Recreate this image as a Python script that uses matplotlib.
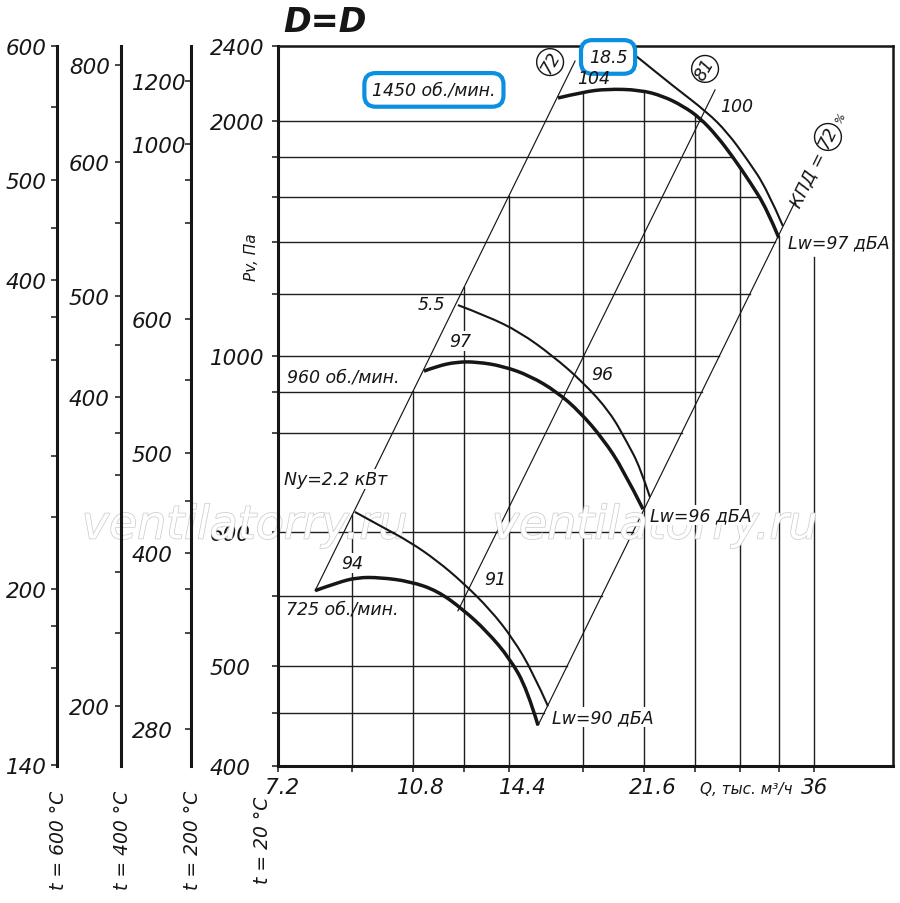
import numpy as np
import matplotlib
matplotlib.use("Agg")
import matplotlib.pyplot as plt
from matplotlib import patheffects as pe
from matplotlib.transforms import ScaledTranslation
from matplotlib.path import Path
from matplotlib.patches import PathPatch

plt.rcParams["font.family"] = ["DejaVu Sans"]
plt.rcParams["font.style"] = "italic"

# ---------------- data (Q: thousand m3/h, Pv: Pa at 20 C) ----------------
Q_1450 = [16.69, 17.99, 19.34, 21.35, 22.88, 24.30, 25.57, 26.91, 28.23, 29.71, 31.27, 32.41]
P_1450 = [2115, 2146, 2162, 2157, 2125, 2074, 2015, 1913, 1798, 1671, 1542, 1416]
Q_N185 = [20.17, 20.47, 21.35, 23.58, 26.11, 27.73, 29.44, 31.27, 32.80]
P_N185 = [2400, 2388, 2325, 2178, 2044, 1936, 1788, 1636, 1467]

Q_960 = [11.16, 11.61, 12.32, 13.09, 14.15, 15.35, 16.64, 17.83, 19.11, 20.29, 21.55]
P_960 = [957, 971, 983, 983, 971, 944, 901, 850, 786, 720, 641]
Q_N55 = [12.36, 13.49, 14.89, 16.44, 17.99, 19.51, 20.53, 21.35, 22.00]
P_N55 = [1162, 1125, 1073, 1000, 927, 850, 779, 725, 664]

Q_725 = [8.05, 8.60, 9.13, 9.78, 10.70, 11.61, 12.55, 13.49, 14.45, 15.21, 15.72]
P_725 = [554, 560, 564, 564, 561, 554, 540, 524, 505, 475, 438]
Q_N22 = [9.07, 9.78, 10.70, 11.61, 12.55, 13.61, 14.58, 15.48, 16.20]
P_N22 = [636, 611, 592, 577, 560, 540, 519, 493, 457]

# system / efficiency rays
EFF72_LEFT_Q = [8.05, 17.57]
EFF72_LEFT_P = [554, 2314]
EFF81_Q = [12.36, 26.75]
EFF81_P = [539, 2157]
EFF72_RIGHT_Q = [15.72, 34.01]
EFF72_RIGHT_P = [438, 1575]

# grid and ticks
X_MIN, X_MAX = 7.2, 45.65
Y_MIN, Y_MAX = 400, 2400
X_GRID = [9.0, 10.8, 12.6, 14.4, 18.0, 21.6, 25.2, 28.8, 32.4, 36.0]
Y_GRID = [450, 500, 550, 600, 800, 900, 1000, 1200, 1400, 1600, 1800, 2000]
X_LABELED = [7.2, 10.8, 14.4, 21.6, 36]
X_LABELS = ["7.2", "10.8", "14.4", "21.6", "36"]
Y_LABELED = [400, 500, 600, 1000, 2000, 2400]
Y_LABELS = ["400", "500", "600", "1000", "2000", "2400"]
VGRID_TOP_BEYOND = 1340

# the printed Pv axis is not uniformly logarithmic: anchors of its scale
SCALE_P = [400, 500, 600, 1000, 2000, 2400]
SCALE_POS = [0, 100, 234, 410, 645, 720]

# auxiliary temperature scales, expressed at the equivalent 20 C pressure
AUX600_PV = [2400, 2069, 1681, 1458, 1251, 1122, 988, 748, 627, 555, 528, 498, 401]
AUX600_LB = ["600", "", "500", "", "400", "", "", "", "", "200", "", "", "140"]
AUX400_PV = [2292, 1772, 1480, 1193, 1033, 888, 800, 708, 568, 523, 457]
AUX400_LB = ["800", "600", "", "500", "", "400", "", "", "", "", "200"]
AUX200_PV = [2204, 1869, 1681, 1480, 1115, 933, 755, 657, 583, 555, 523, 434]
AUX200_LB = ["1200", "1000", "", "", "600", "", "500", "", "400", "", "", "280"]

# ---------------- scale ----------------
LP = np.log(np.array(SCALE_P, float))
SP = np.array(SCALE_POS, float)


def fwd(p):
    lp = np.log(np.clip(np.asarray(p, float), 1e-6, None))
    out = np.interp(lp, LP, SP)
    out = np.where(lp < LP[0], SP[0] + (lp - LP[0]) * (SP[1] - SP[0]) / (LP[1] - LP[0]), out)
    out = np.where(lp > LP[-1], SP[-1] + (lp - LP[-1]) * (SP[-1] - SP[-2]) / (LP[-1] - LP[-2]), out)
    return out


def inv(v):
    v = np.asarray(v, float)
    out = np.interp(v, SP, LP)
    out = np.where(v < SP[0], LP[0] + (v - SP[0]) * (LP[1] - LP[0]) / (SP[1] - SP[0]), out)
    out = np.where(v > SP[-1], LP[-1] + (v - SP[-1]) * (LP[-1] - LP[-2]) / (SP[-1] - SP[-2]), out)
    return np.exp(out)


W, H = 900, 904
fig = plt.figure(figsize=(W / 100, H / 100), dpi=100)
fig.patch.set_facecolor("white")


def rect(x0, x1, y0, y1):
    return [x0 / W, 1 - y1 / H, (x1 - x0) / W, (y1 - y0) / H]


INK = "#161616"
GRID_C = "#1e1e1e"
BLUE = "#0b8fe0"
TICK_FS = 15.5
ANN_FS = 12.5

ax = fig.add_axes(rect(278, 893, 47, 767))
ax.set_xscale("log")
ax.set_yscale("function", functions=(fwd, inv))
ax.set_xlim(X_MIN, X_MAX)
ax.set_ylim(Y_MIN, Y_MAX)
ax.xaxis.set_minor_locator(matplotlib.ticker.NullLocator())
ax.yaxis.set_minor_locator(matplotlib.ticker.NullLocator())

xt = sorted(set([X_MIN] + X_GRID))
ax.set_xticks(xt, [X_LABELS[X_LABELED.index(v)] if v in X_LABELED else "" for v in xt])
yt = sorted(set([Y_MIN, Y_MAX] + Y_GRID))
ax.set_yticks(yt, [Y_LABELS[Y_LABELED.index(v)] if v in Y_LABELED else "" for v in yt])
ax.tick_params(axis="both", direction="out", length=4.5, width=1.1, color=INK,
               labelsize=TICK_FS, labelcolor=INK)
ax.tick_params(axis="x", pad=3.5)
ax.tick_params(axis="y", pad=44.5)
for lab in ax.get_yticklabels():
    lab.set_horizontalalignment("left")
x_shift = {"7.2": 4, "10.8": 8, "14.4": 14, "21.6": 9, "36": 1}
for lab in ax.get_xticklabels():
    s = lab.get_text()
    if s in x_shift:
        lab.set_transform(lab.get_transform() + ScaledTranslation(x_shift[s] / 100, 0, fig.dpi_scale_trans))

for side in ["left", "bottom"]:
    ax.spines[side].set_linewidth(2.2)
for side in ["top", "right"]:
    ax.spines[side].set_linewidth(1.8)
for s in ax.spines.values():
    s.set_color(INK)


# ---------------- clipped grid ----------------
def U(q):
    return np.log(np.asarray(q, float))


def line_u_at_v(q, p, v0):
    u1, u2 = U(q)
    v1, v2 = fwd(p)
    return u1 + (v0 - v1) * (u2 - u1) / (v2 - v1)


def line_v_at_u(q, p, u0):
    u1, u2 = U(q)
    v1, v2 = fwd(p)
    return v1 + (u0 - u1) * (v2 - v1) / (u2 - u1)


ipk = int(np.argmax(P_1450))
q_desc = np.array(Q_1450[ipk:], float)
p_desc = np.array(P_1450[ipk:], float)
for p in Y_GRID:
    v0 = float(fwd(p))
    u_r = line_u_at_v(EFF72_RIGHT_Q, EFF72_RIGHT_P, v0)
    if p_desc.min() <= p <= p_desc.max():
        u_c = np.interp(v0, fwd(p_desc)[::-1], U(q_desc)[::-1])
        u_r = min(u_r, u_c)
    ax.plot([X_MIN, float(np.exp(u_r))], [p, p], color=GRID_C, lw=1.0, zorder=1)

for q in X_GRID:
    u0 = float(np.log(q))
    if q < Q_1450[0]:
        v_top = line_v_at_u(EFF72_LEFT_Q, EFF72_LEFT_P, u0)
    elif q <= Q_1450[-1] + 0.05:
        v_top = np.interp(u0, U(Q_1450), fwd(P_1450))
    else:
        v_top = fwd(VGRID_TOP_BEYOND)
    ax.plot([q, q], [Y_MIN, float(inv(v_top))], color=GRID_C, lw=1.0, zorder=1)

# ---------------- rays ----------------
for qq, pp in [(EFF72_LEFT_Q, EFF72_LEFT_P), (EFF81_Q, EFF81_P), (EFF72_RIGHT_Q, EFF72_RIGHT_P)]:
    ax.plot(qq, pp, color=INK, lw=0.85, zorder=1.5, clip_on=False)


# ---------------- curves (read points joined by a smooth quadratic path) ----------------
def smooth_curve(q, p, lw):
    u = np.log(np.asarray(q, float))
    v = fwd(p)
    pts = [(u[0], v[0])]
    codes = [Path.MOVETO]
    n = len(u)
    for i in range(1, n - 1):
        pts.append((u[i], v[i]))
        codes.append(Path.CURVE3)
        if i < n - 2:
            pts.append(((u[i] + u[i + 1]) / 2, (v[i] + v[i + 1]) / 2))
        else:
            pts.append((u[i + 1], v[i + 1]))
        codes.append(Path.CURVE3)
    pts = np.array(pts)
    data = np.column_stack([np.exp(pts[:, 0]), inv(pts[:, 1])])
    patch = PathPatch(Path(data, codes), transform=ax.transData, fill=False,
                      ec=INK, lw=lw, capstyle="butt", joinstyle="round", zorder=3)
    ax.add_patch(patch)


for qq, pp in [(Q_1450, P_1450), (Q_960, P_960), (Q_725, P_725)]:
    smooth_curve(qq, pp, 2.5)
for qq, pp in [(Q_N185, P_N185), (Q_N55, P_N55), (Q_N22, P_N22)]:
    smooth_curve(qq, pp, 1.5)

# ---------------- annotations ----------------
white = dict(boxstyle="square,pad=0.05", fc="white", ec="none")


def ann(q, p, s, **kw):
    d = dict(fontsize=ANN_FS, color=INK, ha="center", va="center", zorder=6)
    d.update(kw)
    return ax.text(q, p, s, **d)


ann(11.50, 2157, "1450 об./мин.",
    bbox=dict(boxstyle="round,pad=0.45,rounding_size=0.65", fc="white", ec=BLUE, lw=3))
ann(19.40, 2337, "18.5",
    bbox=dict(boxstyle="round,pad=0.45,rounding_size=0.65", fc="white", ec=BLUE, lw=3))
ann(18.60, 2220, "104")
ann(28.57, 2074, "100")
ann(11.43, 1166, "5.5")
ann(12.44, 1045, "97", bbox=white)
ann(8.75, 941, "960 об./мин.")
ann(19.05, 949, "96")
ann(8.57, 700, "Ny=2.2 кВт", bbox=white)
ann(8.99, 575, "94", bbox=white)
ann(8.73, 541, "725 об./мин.")
ann(13.81, 563, "91")
ann(16.39, 446, "Lw=90 дБА", ha="left", bbox=white)
ann(22.00, 630, "Lw=96 дБА", ha="left", bbox=white)
ann(33.30, 1400, "Lw=97 дБА", ha="left", bbox=white)

circ = dict(boxstyle="circle,pad=0.14", fc="white", ec=INK, lw=1.0)
ann(16.30, 2308, "72", rotation=60, bbox=circ)
ann(25.96, 2270, "81", rotation=60, bbox=circ)
ann(35.36, 1686, "КПД =", rotation=63.8)
ann(37.55, 1908, "72", rotation=63.8, bbox=circ)
ann(39.05, 2020, "%", rotation=63.8, fontsize=8)

# watermark: above the grid, below curves, tick labels and annotations
for xpix in [245, 655]:
    ax.text(xpix / W, 1 - 527 / H, "ventilatorry.ru", transform=fig.transFigure,
            ha="center", va="center", fontsize=33, color="white", zorder=2.2, clip_on=False,
            path_effects=[pe.Stroke(linewidth=1.1, foreground="#cdcdcd"), pe.Normal()])

# ---------------- auxiliary temperature axes ----------------
for xpix, pv, lb, pad, ha in [(57, AUX600_PV, AUX600_LB, 2.8, "right"),
                              (121, AUX400_PV, AUX400_LB, 3.5, "right"),
                              (191, AUX200_PV, AUX200_LB, 38.0, "left")]:
    a = fig.add_axes(rect(xpix, xpix + 1, 47, 767))
    a.set_yscale("function", functions=(fwd, inv))
    a.set_ylim(Y_MIN, Y_MAX)
    a.yaxis.set_minor_locator(matplotlib.ticker.NullLocator())
    a.set_yticks(pv, lb)
    a.set_xticks([])
    a.patch.set_visible(False)
    for side in ["top", "right", "bottom"]:
        a.spines[side].set_visible(False)
    a.spines["left"].set_linewidth(2.2)
    a.spines["left"].set_color(INK)
    a.tick_params(axis="y", direction="out", length=4.5, width=1.1, color=INK,
                  labelsize=TICK_FS, labelcolor=INK, pad=pad)
    for t in a.get_yticklabels():
        t.set_horizontalalignment(ha)

# ---------------- figure texts ----------------
fig.text(325 / W, 1 - 22 / H, "D=D", fontsize=24, fontweight="bold", ha="center", va="center", color=INK)
for xpix, s in [(59, "t = 600 °C"), (122, "t = 400 °C"), (192, "t = 200 °C"), (263, "t = 20 °C")]:
    fig.text(xpix / W, 1 - 840 / H, s, rotation=90, ha="center", va="center", fontsize=13.5, color=INK)
fig.text(252 / W, 1 - 257 / H, "Pv, Па", rotation=90, ha="center", va="center", fontsize=11, color=INK)
fig.text(746 / W, 1 - 790 / H, "Q, тыс. м³/ч", ha="center", va="center", fontsize=11, color=INK)

fig.savefig("out.png", dpi=100, facecolor="white")
